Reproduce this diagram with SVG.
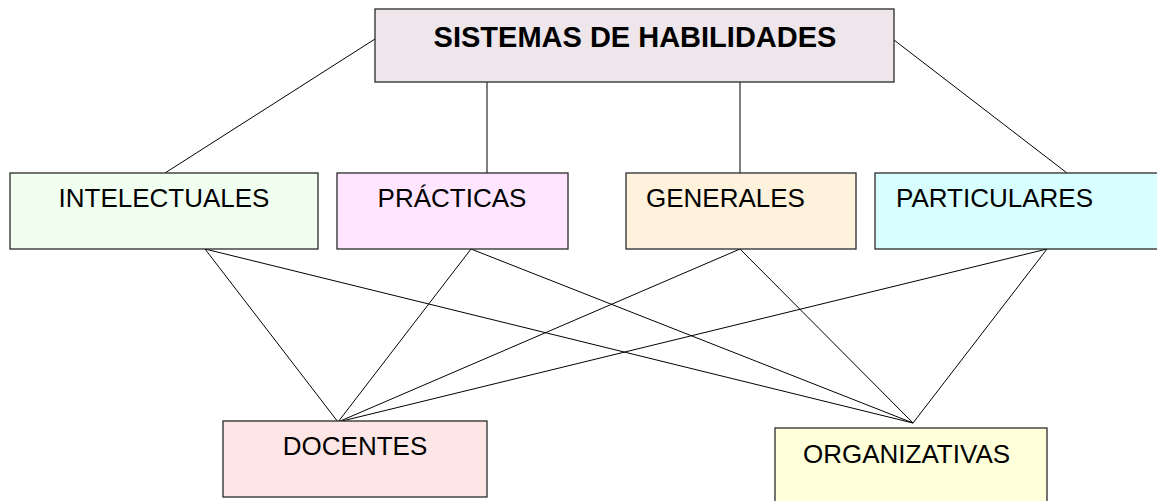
<svg xmlns="http://www.w3.org/2000/svg" width="1157" height="501" viewBox="0 0 1157 501">
<style>
.box{stroke:#2a2a2a;stroke-width:1.3}
.t{font-family:"Liberation Sans",Arial,sans-serif;font-size:26px;fill:#000}
.title{font-family:"Liberation Sans",Arial,sans-serif;font-size:29px;font-weight:bold;fill:#000}
.c{stroke:#000;stroke-width:1;fill:none}
</style>
<rect width="1157" height="501" fill="#fff"/>
<g id="connectors">
<line class="c" x1="375" y1="39" x2="165" y2="173"/>
<line class="c" x1="894" y1="40" x2="1067" y2="173"/>
<line class="c" x1="487" y1="77" x2="487" y2="173"/>
<line class="c" x1="740" y1="77" x2="740" y2="173"/>
<line class="c" x1="205" y1="249" x2="338" y2="422"/>
<line class="c" x1="205" y1="249" x2="913" y2="423"/>
<line class="c" x1="471" y1="249" x2="338" y2="422"/>
<line class="c" x1="471" y1="249" x2="913" y2="423"/>
<line class="c" x1="740" y1="249" x2="338" y2="422"/>
<line class="c" x1="740" y1="249" x2="913" y2="423"/>
<line class="c" x1="1047" y1="249" x2="338" y2="422"/>
<line class="c" x1="1047" y1="249" x2="913" y2="423"/>
</g>
<g id="sistemas">
<rect class="box" x="375" y="9" width="519" height="73" fill="#EEE6EA"/>
<text class="title" x="635" y="47" text-anchor="middle">SISTEMAS DE HABILIDADES</text>
</g>
<g id="intelectuales">
<rect class="box" x="10" y="173" width="308" height="76" fill="#F1FFF1"/>
<text class="t" x="164" y="207" text-anchor="middle">INTELECTUALES</text>
</g>
<g id="practicas">
<rect class="box" x="337" y="173" width="231" height="76" fill="#FFE5FF"/>
<text class="t" x="452" y="207" text-anchor="middle">PRÁCTICAS</text>
</g>
<g id="generales">
<rect class="box" x="626" y="173" width="230" height="76" fill="#FFF2DC"/>
<text class="t" x="646" y="207">GENERALES</text>
</g>
<g id="particulares">
<rect class="box" x="875" y="173" width="290" height="76" fill="#D8FFFF"/>
<text class="t" x="896" y="207">PARTICULARES</text>
</g>
<g id="docentes">
<rect class="box" x="223" y="421" width="264" height="76" fill="#FFE6E6"/>
<text class="t" x="355" y="455" text-anchor="middle">DOCENTES</text>
</g>
<g id="organizativas">
<rect class="box" x="775" y="428" width="272" height="90" fill="#FFFFD9"/>
<text class="t" x="803" y="463">ORGANIZATIVAS</text>
</g>
</svg>
